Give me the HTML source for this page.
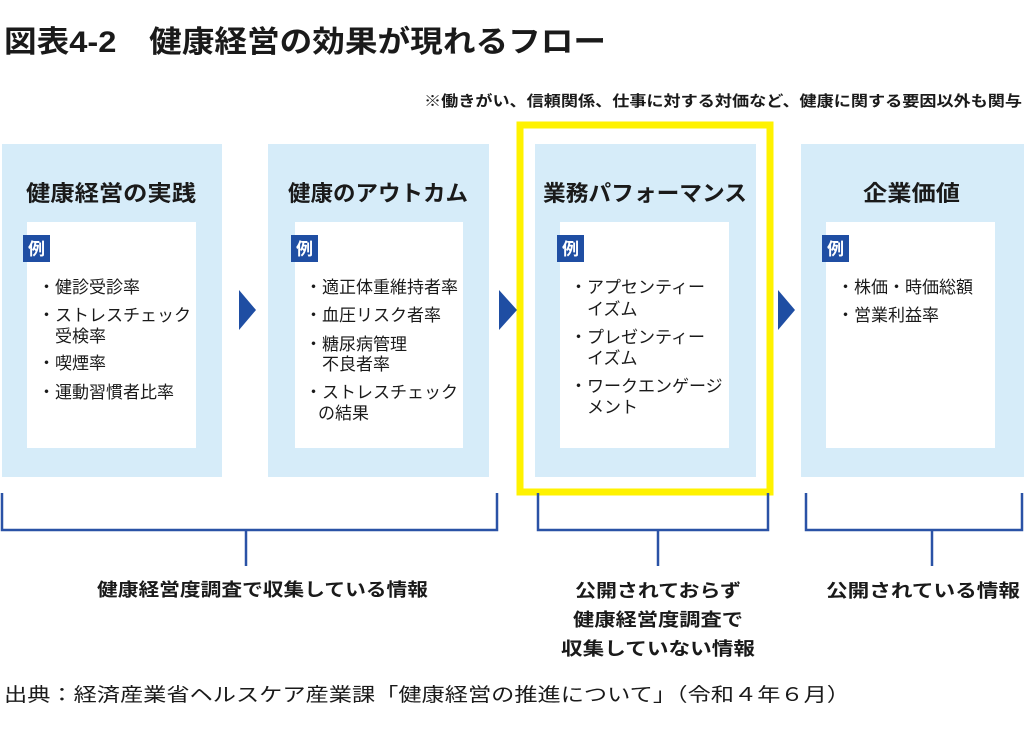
<!DOCTYPE html>
<html><head><meta charset="utf-8"><style>
body{margin:0;background:#fff}
svg{display:block}
text{font-family:"Liberation Sans","Noto Sans CJK JP",sans-serif;fill:#1a1a1a}
.t{font-weight:bold;font-size:22px}
.b{font-size:17px}
.r{font-weight:bold;font-size:17px;fill:#fff}
.l{font-weight:bold;font-size:18px}
</style></head><body>
<svg width="1024" height="730" viewBox="0 0 1024 730" xmlns="http://www.w3.org/2000/svg">
<text x="4" y="52" font-size="30" font-weight="bold" textLength="602" lengthAdjust="spacingAndGlyphs">図表4-2　健康経営の効果が現れるフロー</text>
<text x="424" y="106" font-size="15" font-weight="bold" textLength="598" lengthAdjust="spacingAndGlyphs">※働きがい、信頼関係、仕事に対する対価など、健康に関する要因以外も関与</text>

<rect x="520" y="125" width="250" height="367" fill="none" stroke="#fff200" stroke-width="7"/>

<g fill="#d6ecf9">
<rect x="2" y="144" width="220" height="333"/>
<rect x="268" y="144" width="221" height="333"/>
<rect x="535" y="144" width="221" height="333"/>
<rect x="801" y="144" width="223" height="333"/>
</g>
<g fill="#fff">
<rect x="27" y="222" width="169" height="226"/>
<rect x="295" y="222" width="168" height="226"/>
<rect x="560" y="222" width="169" height="226"/>
<rect x="826" y="222" width="169" height="226"/>
</g>
<g fill="#1f4ea3">
<rect x="23" y="235" width="27" height="27"/>
<rect x="291" y="235" width="27" height="27"/>
<rect x="557" y="235" width="27" height="27"/>
<rect x="822" y="235" width="27" height="27"/>
<polygon points="239,290 256,310 239,330"/>
<polygon points="499,290 517,310 499,330"/>
<polygon points="778,290 795,310 778,330"/>
</g>
<text class="r" x="28" y="255">例</text>
<text class="r" x="296" y="255">例</text>
<text class="r" x="562" y="255">例</text>
<text class="r" x="827" y="255">例</text>

<text class="t" x="26" y="201" textLength="170" lengthAdjust="spacingAndGlyphs">健康経営の実践</text>
<text class="t" x="288" y="201" textLength="180" lengthAdjust="spacingAndGlyphs">健康のアウトカム</text>
<text class="t" x="543" y="201" textLength="204" lengthAdjust="spacingAndGlyphs">業務パフォーマンス</text>
<text class="t" x="863" y="201" textLength="97" lengthAdjust="spacingAndGlyphs">企業価値</text>

<text class="b" x="38" y="293">・健診受診率</text>
<text class="b" x="38" y="321">・ストレスチェック</text>
<text class="b" x="55" y="342">受検率</text>
<text class="b" x="38" y="369">・喫煙率</text>
<text class="b" x="38" y="398">・運動習慣者比率</text>

<text class="b" x="305" y="293">・適正体重維持者率</text>
<text class="b" x="305" y="321">・血圧リスク者率</text>
<text class="b" x="305" y="350">・糖尿病管理</text>
<text class="b" x="322" y="370">不良者率</text>
<text class="b" x="305" y="398">・ストレスチェック</text>
<text class="b" x="318" y="419">の結果</text>

<text class="b" x="570" y="293">・アプセンティー</text>
<text class="b" x="587" y="315">イズム</text>
<text class="b" x="570" y="343">・プレゼンティー</text>
<text class="b" x="587" y="364">イズム</text>
<text class="b" x="570" y="392">・ワークエンゲージ</text>
<text class="b" x="587" y="413">メント</text>

<text class="b" x="837" y="293">・株価・時価総額</text>
<text class="b" x="837" y="321">・営業利益率</text>

<g stroke="#2a52a6" stroke-width="2.5" fill="none">
<polyline points="2,493 2,530 497,530 497,493"/>
<line x1="246" y1="530" x2="246" y2="566"/>
<polyline points="538,493 538,530 768,530 768,493"/>
<line x1="658" y1="530" x2="658" y2="566"/>
<polyline points="806,493 806,530 1022,530 1022,493"/>
<line x1="932" y1="530" x2="932" y2="566"/>
</g>

<text class="l" x="97" y="596" textLength="331" lengthAdjust="spacingAndGlyphs">健康経営度調査で収集している情報</text>
<text class="l" x="575" y="597" textLength="166" lengthAdjust="spacingAndGlyphs">公開されておらず</text>
<text class="l" x="573" y="626" textLength="170" lengthAdjust="spacingAndGlyphs">健康経営度調査で</text>
<text class="l" x="561" y="655" textLength="194" lengthAdjust="spacingAndGlyphs">収集していない情報</text>
<text class="l" x="826" y="597" textLength="194" lengthAdjust="spacingAndGlyphs">公開されている情報</text>

<text x="4" y="701" font-size="19" textLength="846" lengthAdjust="spacingAndGlyphs">出典：経済産業省ヘルスケア産業課「健康経営の推進について」（令和４年６月）</text>
</svg>
</body></html>
